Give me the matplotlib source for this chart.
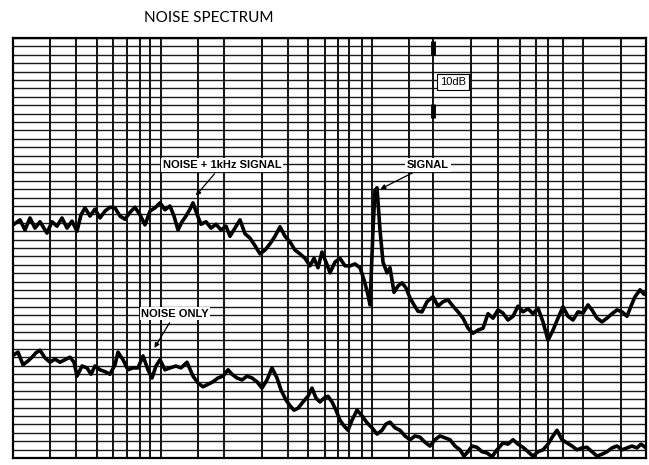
import numpy as np
import matplotlib.pyplot as plt

# sweep position (chart divisions) and level above the bottom of the paper (dB)
x_sig = [0, 7, 12, 17, 22, 27, 34, 39, 44, 49, 54, 59, 64, 68, 72, 77, 82, 87, 92, 97,
         102, 107, 112, 117, 122, 127, 132, 137, 142, 147, 152, 157, 161, 165, 169, 173, 177, 180, 184, 188,
         193, 198, 203, 208, 213, 217, 222, 227, 232, 237, 242, 247, 252, 257, 262, 267, 272, 277, 282, 287,
         292, 297, 301, 305, 309, 313, 317, 322, 327, 332, 337, 342, 347, 351, 355, 357, 360, 362, 364, 367,
         370, 374, 377, 381, 385, 389, 393, 397, 401, 405, 409, 414, 420, 425, 430, 435, 440, 445, 450, 455,
         460, 465, 470, 475, 480, 485, 490, 495, 500, 505, 510, 515, 520, 525, 530, 535, 540, 545, 550, 555,
         560, 565, 570, 575, 579, 584, 589, 594, 599, 604, 609, 614, 618, 622, 627, 631, 633]
noise_sig = [37.0, 37.8, 36.2, 38.1, 36.5, 37.5, 35.7, 37.5, 36.8, 38.1, 36.5, 37.6, 36.0, 38.6, 39.7, 38.4, 39.5, 38.1, 39.2, 39.8,
             39.7, 38.4, 37.9, 39.0, 39.8, 38.6, 37.0, 39.2, 39.7, 40.5, 39.4, 40.0, 38.4, 36.2, 37.5, 38.4, 39.5, 40.5, 38.7, 37.1,
             37.5, 36.5, 37.1, 36.2, 36.8, 35.2, 36.5, 37.8, 35.6, 34.9, 33.7, 32.4, 33.0, 34.0, 35.2, 36.7, 35.2, 34.3, 33.0, 32.4,
             31.7, 30.5, 31.7, 30.2, 32.7, 31.1, 29.4, 31.1, 31.7, 30.5, 30.5, 30.8, 30.2, 28.3, 25.9, 24.3, 36.2, 42.5, 42.9, 36.2,
             31.1, 29.4, 30.2, 26.3, 27.3, 27.8, 27.0, 25.4, 24.3, 23.3, 23.2, 24.8, 25.6, 24.1, 24.8, 25.1, 24.1, 23.2, 22.2, 20.6,
             19.8, 20.3, 20.6, 22.9, 22.2, 23.5, 23.0, 21.9, 22.5, 24.1, 23.2, 23.7, 22.9, 23.8, 21.6, 18.7, 20.3, 22.2, 24.0, 22.5,
             21.9, 23.2, 23.0, 24.3, 23.5, 22.2, 21.6, 22.2, 22.9, 23.5, 23.2, 22.5, 24.1, 25.6, 26.7, 26.0, 26.3]

x_noise = [0, 5, 10, 15, 19, 23, 27, 32, 37, 42, 47, 52, 57, 61, 64, 69, 74, 78, 82, 87,
           92, 97, 102, 105, 110, 115, 120, 125, 130, 135, 139, 143, 147, 152, 157, 163, 168, 174, 180, 185,
           190, 195, 200, 205, 210, 215, 219, 224, 229, 234, 239, 244, 249, 254, 259, 264, 268, 273, 277, 281,
           285, 290, 295, 299, 303, 307, 311, 315, 319, 323, 327, 331, 335, 339, 344, 349, 354, 359, 364, 369,
           373, 377, 382, 387, 392, 397, 402, 407, 412, 417, 422, 427, 432, 437, 442, 447, 451, 455, 459, 464,
           469, 474, 479, 484, 490, 495, 500, 505, 510, 515, 520, 525, 530, 535, 540, 544, 549, 554, 559, 564,
           569, 574, 579, 584, 589, 594, 599, 604, 609, 614, 619, 624, 628, 633]
noise_only = [16.3, 16.8, 14.8, 15.4, 16.0, 16.7, 17.1, 15.9, 15.2, 15.7, 15.2, 15.6, 16.0, 15.2, 13.0, 14.6, 14.3, 13.3, 14.6, 14.0,
              13.7, 13.3, 14.8, 16.8, 15.6, 14.0, 14.3, 14.3, 16.2, 14.0, 12.7, 14.6, 15.6, 14.0, 14.3, 14.6, 14.3, 15.2, 13.0, 11.9,
              11.3, 11.7, 12.1, 12.7, 13.0, 14.0, 13.3, 12.7, 12.4, 13.0, 12.7, 12.1, 11.1, 12.4, 14.3, 12.7, 10.8, 9.2, 8.3, 7.6,
              7.9, 8.9, 9.8, 11.1, 9.5, 8.9, 9.5, 9.8, 8.9, 7.6, 6.0, 5.1, 4.4, 6.0, 7.6, 6.7, 5.6, 4.8, 3.8, 4.4,
              5.4, 5.7, 4.8, 4.4, 3.5, 2.9, 3.5, 3.3, 2.5, 1.9, 2.9, 3.5, 3.2, 2.9, 1.9, 1.3, 0.3, 1.0, 1.9, 1.7,
              1.0, 0.8, 0.2, 1.3, 2.4, 2.2, 2.9, 2.2, 1.7, 1.0, 0.3, 1.0, 1.3, 2.2, 3.5, 4.4, 2.9, 2.4, 1.9, 1.3,
              1.6, 1.7, 1.0, 0.3, 0.6, 1.0, 1.6, 1.9, 1.3, 1.6, 1.9, 1.6, 2.2, 1.6]

# rulings of the recorder paper
v_lines = [37, 63, 84, 100, 114, 127, 137, 148, 185, 211, 249, 275, 295, 312, 325, 336,
           349, 359, 396, 420, 458, 485, 507, 523, 535, 550, 570, 608]
h_step = 4 / 3

fig = plt.figure(figsize=(6.49, 4.65), dpi=100)
ax = fig.add_axes([13 / 649, 7 / 465, 633 / 649, 420 / 465])
ax.set_xlim(0, 633)
ax.set_ylim(0, 420 / 6.3)

for y in np.arange(h_step, 420 / 6.3, h_step):
    ax.axhline(y, color='#1a1a1a', lw=1.0, zorder=1)
for x in v_lines:
    ax.axvline(x, color='#111111', lw=1.4, zorder=1)

# 10 dB reference marks
ax.plot([420, 420], [64.0, 66.2], color='black', lw=3.5, solid_capstyle='butt', zorder=2)
ax.plot([420, 420], [54.0, 56.2], color='black', lw=3.5, solid_capstyle='butt', zorder=2)

ax.plot(x_sig, noise_sig, color='black', lw=2.6, zorder=3)
ax.plot(x_noise, noise_only, color='black', lw=2.6, zorder=3)

lab = dict(family=['Liberation Sans', 'DejaVu Sans'], fontweight='bold',
           fontsize=8, ha='center', va='center', zorder=5,
           bbox=dict(boxstyle='square,pad=0.15', fc='white', ec='none'))
arr = dict(arrowstyle='-|>', color='black', lw=0.9, mutation_scale=7)

ax.annotate('NOISE + 1kHz SIGNAL', xy=(181, 41.3), xytext=(209, 46.5), arrowprops=arr, **lab)
ax.annotate('SIGNAL', xy=(365, 42.5), xytext=(415, 46.5), arrowprops=arr, **lab)
ax.annotate('NOISE ONLY', xy=(140, 17.1), xytext=(162, 22.9), arrowprops=arr, **lab)
ax.text(440, 59.7, '10dB', family=['Liberation Sans', 'DejaVu Sans'], fontsize=8,
        ha='center', va='center', zorder=5,
        bbox=dict(boxstyle='square,pad=0.25', fc='white', ec='black', lw=0.8))

ax.set_xticks([])
ax.set_yticks([])
for s in ax.spines.values():
    s.set_linewidth(1.6)

fig.text(209 / 649, 1 - 18 / 465, 'NOISE SPECTRUM', family=['Lato', 'DejaVu Sans'],
         fontsize=11, ha='center', va='center')

fig.savefig('out.png', dpi=100)
